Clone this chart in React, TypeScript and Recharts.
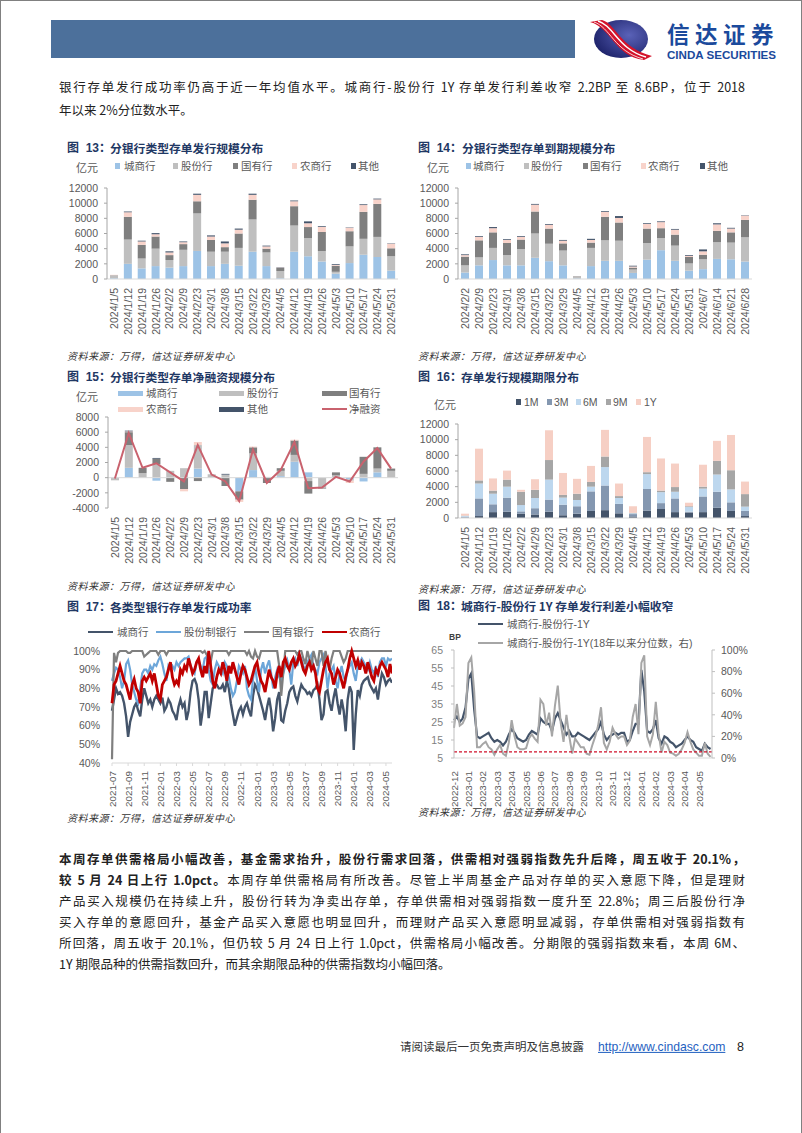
import React from 'react';
import { ComposedChart, Bar, Line, XAxis, YAxis, ReferenceLine } from 'recharts';

const FONT = '"Liberation Sans","Noto Sans CJK SC",sans-serif';
const CJK = '"Noto Sans CJK SC","Liberation Sans",sans-serif';

const bankNames = ['城商行', '股份行', '国有行', '农商行', '其他'];
const bankColors = ['#9DC3E6', '#BFBFBF', '#7F7F7F', '#F8D3CA', '#44546A'];
const tenorNames = ['1M', '3M', '6M', '9M', '1Y'];
const tenorColors = ['#44546A', '#8497B0', '#BDD7EE', '#A6A6A6', '#F6CFC4'];

const issueDates = ['2024/1/5', '2024/1/12', '2024/1/19', '2024/1/26', '2024/2/2', '2024/2/9', '2024/2/23', '2024/3/1', '2024/3/8', '2024/3/15', '2024/3/22', '2024/3/29', '2024/4/5', '2024/4/12', '2024/4/19', '2024/4/26', '2024/5/3', '2024/5/10', '2024/5/17', '2024/5/24', '2024/5/31'];
const maturityDates = ['2024/2/2', '2024/2/9', '2024/2/23', '2024/3/1', '2024/3/8', '2024/3/15', '2024/3/22', '2024/3/29', '2024/4/5', '2024/4/12', '2024/4/19', '2024/4/26', '2024/5/3', '2024/5/10', '2024/5/17', '2024/5/24', '2024/5/31', '2024/6/7', '2024/6/14', '2024/6/21', '2024/6/28'];

// fig 13 issuance by bank type
const issueCity = [100, 2000, 1400, 1700, 1500, 1700, 3700, 1700, 2000, 1750, 3600, 1700, 100, 3600, 3000, 2300, 700, 2100, 3200, 2900, 1100];
const issueStock = [350, 3200, 1300, 2300, 1000, 2150, 4950, 1900, 1600, 2350, 4250, 1800, 950, 3450, 2400, 1400, 250, 2200, 2100, 2650, 1900];
const issueState = [50, 3000, 1800, 1600, 650, 750, 1600, 1550, 600, 1900, 2600, 500, 400, 2550, 1450, 2500, 800, 2000, 3550, 4350, 1050];
const issueRural = [50, 600, 450, 300, 350, 250, 850, 450, 500, 500, 650, 300, 50, 650, 500, 650, 100, 450, 900, 600, 600];
const issueOther = [0, 100, 100, 150, 150, 100, 150, 150, 250, 150, 150, 100, 50, 100, 250, 100, 100, 50, 100, 100, 50];

// fig 14 maturity by bank type
const matCity = [850, 1800, 2500, 1800, 1800, 2800, 2350, 1800, 80, 1700, 2400, 2400, 800, 2550, 3800, 2400, 1100, 1300, 2650, 2600, 2300];
const matStock = [950, 1050, 1600, 1350, 2150, 3200, 2300, 1950, 220, 2400, 2700, 2650, 450, 2200, 1600, 2000, 950, 1300, 2200, 2200, 3200];
const matState = [1150, 2250, 2050, 1600, 1250, 2900, 2000, 950, 50, 700, 3100, 2400, 250, 1900, 1300, 1450, 850, 600, 1500, 1350, 2300];
const matRural = [200, 450, 550, 400, 350, 900, 500, 350, 20, 350, 650, 600, 150, 600, 800, 650, 150, 450, 850, 500, 550];
const matOther = [100, 100, 150, 100, 100, 100, 100, 100, 10, 150, 100, 250, 100, 100, 100, 100, 100, 250, 150, 100, 50];

// fig 15 net financing
const netCity = [-50, 1300, 0, -400, 50, 0, 1200, 0, 0, -1800, 1000, 0, 200, 2100, 700, 0, 100, -200, -500, 700, 0];
const netStock = [-300, 3000, 600, 1800, 850, 1250, 3100, 450, 400, 0, 2200, 100, 700, 900, -450, -1400, 200, -200, 500, 500, 900];
const netState = [0, 1700, 700, 700, -550, -1500, -450, 0, -1100, -1100, 800, -700, 350, 1900, -1650, -50, 400, 0, 2250, 2800, 300];
const netRural = [0, 100, 0, 0, 0, -300, 400, 0, 0, -300, 100, 0, 0, 100, 0, 0, 0, -300, 0, 0, 0];
const netOther = [0, 100, 0, 100, 0, 0, 0, 0, 100, 0, 0, 0, 0, 0, 0, 0, 0, 0, 0, 0, 0];
const netTotal = [-100, 5900, 1300, 1900, 700, -500, 4300, 400, -500, -3100, 3700, -700, 1000, 4700, -1400, -1300, 100, -500, 2100, 3900, 1200];

// fig 16 issuance by tenor
const tenor1M = [50, 250, 750, 800, 550, 450, 800, 350, 550, 900, 1000, 600, 200, 950, 1150, 750, 700, 750, 1300, 900, 250];
const tenor3M = [100, 2250, 1000, 1800, 300, 800, 1550, 1350, 950, 2500, 3150, 1200, 300, 2750, 750, 1750, 100, 2000, 2050, 1100, 650];
const tenor6M = [100, 1900, 1350, 1400, 800, 1300, 2550, 900, 800, 600, 2350, 750, 100, 1900, 1400, 850, 600, 1000, 2200, 1650, 550];
const tenor9M = [50, 400, 400, 900, 1700, 1050, 2500, 350, 800, 600, 1350, 250, 50, 250, 200, 600, 100, 250, 1750, 2450, 1600];
const tenor1Y = [250, 4050, 1550, 1150, 250, 1350, 3800, 2800, 1900, 2050, 3400, 1600, 850, 4500, 4100, 3000, 450, 2800, 2550, 4500, 1600];

// fig 17 success rate, about weekly
const rateMonths = ['2021-07', '2021-09', '2021-11', '2022-01', '2022-03', '2022-05', '2022-07', '2022-09', '2022-11', '2023-01', '2023-03', '2023-05', '2023-07', '2023-09', '2023-11', '2024-01', '2024-03', '2024-05'];
const rateCity = [68, 74, 80, 77, 78, 76, 72, 65, 54, 62, 66, 70, 72, 68, 65, 74, 80, 76, 72, 74, 70, 74, 76, 74, 72, 75, 68, 70, 74, 72, 68, 66, 63, 70, 74, 70, 72, 63, 68, 78, 84, 85, 82, 74, 60, 68, 78, 78, 64, 72, 80, 82, 82, 80, 80, 82, 78, 84, 80, 72, 66, 60, 64, 68, 70, 66, 70, 72, 68, 65, 76, 82, 80, 76, 72, 68, 63, 70, 75, 68, 57, 64, 74, 78, 63, 62, 68, 72, 78, 80, 81, 76, 73, 78, 82, 80, 79, 77, 78, 76, 79, 80, 82, 74, 63, 66, 78, 79, 72, 68, 75, 80, 72, 66, 74, 68, 57, 74, 81, 78, 47, 66, 79, 76, 82, 84, 85, 86, 82, 80, 78, 80, 74, 82, 88, 86, 82, 84, 85, 83];
const rateStock = [84, 88, 91, 90, 86, 80, 84, 93, 95, 90, 82, 78, 74, 72, 80, 88, 90, 90, 88, 92, 90, 93, 92, 95, 97, 93, 88, 84, 92, 90, 92, 90, 94, 92, 94, 95, 96, 96, 97, 92, 90, 88, 94, 95, 92, 90, 96, 97, 90, 84, 82, 90, 94, 92, 90, 88, 94, 92, 86, 80, 76, 78, 84, 92, 90, 88, 92, 80, 76, 74, 85, 92, 84, 78, 90, 94, 88, 92, 95, 88, 80, 86, 90, 86, 84, 88, 92, 95, 90, 82, 94, 96, 92, 98, 96, 92, 90, 94, 96, 98, 92, 90, 88, 94, 96, 98, 92, 80, 88, 90, 92, 84, 80, 88, 92, 86, 84, 90, 92, 94, 88, 84, 92, 94, 96, 94, 92, 90, 94, 90, 88, 92, 86, 94, 96, 96, 92, 96, 95, 96];
const rateState = [42, 99, 94, 99, 100, 100, 100, 100, 99, 99, 100, 100, 100, 100, 100, 100, 97, 98, 99, 100, 100, 100, 100, 98, 100, 100, 100, 98, 100, 100, 100, 100, 100, 100, 100, 100, 100, 100, 100, 100, 100, 100, 100, 100, 100, 99, 100, 98, 97, 94, 100, 100, 100, 100, 100, 100, 100, 100, 98, 100, 100, 100, 100, 100, 100, 100, 100, 98, 100, 97, 96, 100, 97, 96, 100, 100, 100, 100, 100, 100, 100, 100, 100, 92, 76, 88, 100, 100, 100, 100, 100, 100, 98, 100, 100, 96, 93, 100, 96, 92, 100, 96, 92, 100, 100, 92, 100, 94, 90, 96, 100, 100, 100, 100, 97, 94, 96, 100, 100, 100, 100, 100, 100, 100, 100, 100, 100, 100, 100, 100, 100, 100, 100, 100, 100, 100, 100, 100, 100, 100];
const rateRural = [72, 82, 84, 88, 92, 88, 84, 82, 78, 74, 82, 85, 80, 78, 72, 84, 86, 84, 86, 88, 84, 88, 82, 76, 74, 82, 84, 86, 90, 94, 86, 82, 84, 82, 90, 88, 92, 90, 96, 92, 88, 90, 94, 96, 90, 86, 92, 88, 100, 92, 84, 80, 86, 90, 88, 94, 90, 84, 92, 88, 94, 90, 86, 82, 88, 92, 90, 86, 82, 84, 88, 92, 94, 88, 84, 82, 78, 84, 90, 86, 84, 80, 88, 92, 86, 94, 96, 92, 90, 94, 96, 92, 94, 98, 94, 90, 88, 92, 94, 90, 92, 88, 80, 78, 84, 90, 94, 96, 90, 88, 82, 86, 90, 88, 84, 80, 86, 90, 96, 100, 96, 92, 95, 90, 94, 92, 88, 94, 90, 86, 84, 90, 88, 92, 94, 92, 90, 86, 93, 88];

// fig 18 spread, five readings a month
const spreadMonths = ['2022-12', '2023-01', '2023-02', '2023-03', '2023-04', '2023-05', '2023-06', '2023-07', '2023-08', '2023-09', '2023-10', '2023-11', '2023-12', '2024-01', '2024-02', '2024-03', '2024-04', '2024-05'];
const spreadBp = [26, 28, 25, 27, 33, 49, 52, 32, 17, 16, 17, 18, 19, 16, 14, 15, 14, 12, 14, 18, 21, 19, 16, 15, 14, 15, 18, 20, 19, 18, 27, 25, 24, 24, 20, 27, 30, 26, 22, 18, 20, 17, 17, 19, 18, 17, 16, 15, 17, 19, 21, 25, 18, 15, 17, 18, 19, 18, 19, 19, 14, 15, 20, 24, 24, 54, 42, 20, 19, 21, 26, 16, 13, 17, 16, 14, 13, 11, 12, 13, 15, 17, 15, 14, 11, 10, 9, 13, 11, 10];
const spreadPct = [28, 50, 30, 32, 38, 88, 93, 62, 10, 10, 13, 15, 10, 8, 3, 8, 12, 4, 2, 14, 35, 20, 10, 8, 8, 9, 18, 22, 18, 15, 54, 50, 30, 42, 20, 48, 67, 33, 15, 40, 20, 4, 18, 14, 10, 10, 4, 3, 12, 20, 30, 47, 14, 8, 15, 28, 22, 18, 20, 20, 12, 16, 38, 50, 22, 88, 95, 20, 12, 22, 52, 22, 5, 15, 12, 5, 4, 2, 4, 8, 14, 24, 15, 8, 5, 2, 2, 14, 4, 1];
const spreadNow = 8.4;

const stackRows = (labels: string[], series: number[][]) =>
  labels.map((label, i) => {
    const row: any = { label };
    series.forEach((s, k) => { row['s' + k] = s[i]; });
    return row;
  });

const rateRows = rateCity.map((v, i) => ({ i, city: v, stock: rateStock[i], state: rateState[i], rural: rateRural[i] }));
const spreadRows = spreadBp.map((v, i) => ({ i, bp: v, pct: spreadPct[i] }));

const Txt = ({ x, y, size = 10.5, color = '#595959', weight = 400, italic = false, font = FONT, spacing = 0, children }: any) => (
  <div style={{ position: 'absolute', left: x, top: y, transform: 'translateY(-50%)', fontSize: size, color, fontWeight: weight, fontStyle: italic ? 'italic' : 'normal', fontFamily: font, letterSpacing: spacing, whiteSpace: 'nowrap', lineHeight: 1 }}>{children}</div>
);
const Box = ({ x, y, w, h, color }: any) => (
  <div style={{ position: 'absolute', left: x, top: y, width: w, height: h, background: color }} />
);
const Title = ({ x, tx, y, num, children }: any) => (
  <>
    <Txt x={x} y={y} size={12} color="#1F3864" weight={700}>图&nbsp;&nbsp;{num}&#xFF1A;</Txt>
    <Txt x={tx} y={y} size={11.8} color="#1F3864" weight={700} font={CJK}>{children}</Txt>
  </>
);
const Source = ({ x, y }: any) => (
  <Txt x={x} y={y} size={10} color="#333" italic font={CJK} spacing={0.5}>资料来源&#xFF1A;万得&#xFF0C;信达证券研发中心</Txt>
);

const DateTick = ({ x, y, payload, size = 10.5, format }: any) => (
  <text x={x} y={y} transform={`rotate(-90 ${x} ${y})`} textAnchor="end" dominantBaseline="central" fontSize={size} fill="#595959" fontFamily={FONT}>
    {format ? format(payload.value) : payload.value}
  </text>
);

const yTick = { fontSize: 10.5, fill: '#595959', fontFamily: FONT };

function StackChart({ left, top, plotH, width, labels, series, colors, domain, ticks, net }: any) {
  const rows = stackRows(labels, series);
  if (net) rows.forEach((r: any, i: number) => { r.net = net[i]; });
  return (
    <div style={{ position: 'absolute', left, top }}>
      <ComposedChart width={width} height={plotH + 6 + 70} data={rows} stackOffset={net ? 'sign' : 'none'} margin={{ top: 6, right: 0, bottom: 0, left: 0 }}>
        <XAxis dataKey="label" interval={0} height={70} axisLine={net ? false : { stroke: '#D9D9D9' }} tickLine={false} tickMargin={0}
          tick={(p: any) => <DateTick {...p} y={p.y + 3} />} />
        <YAxis width={40} domain={domain} ticks={ticks} interval={0} axisLine={{ stroke: '#A6A6A6' }} tickLine={{ stroke: '#A6A6A6' }} tickSize={3} tickMargin={6} tick={yTick} />
        {net && <ReferenceLine y={0} stroke="#D9D9D9" />}
        {colors.map((c: string, k: number) => (
          <Bar key={k} dataKey={'s' + k} stackId="a" fill={c} barSize={8} isAnimationActive={false} />
        ))}
        {net && <Line dataKey="net" stroke="#C9626E" strokeWidth={2} dot={false} isAnimationActive={false} />}
      </ComposedChart>
    </div>
  );
}

function RateChart() {
  return (
    <div style={{ position: 'absolute', left: 72, top: 645 }}>
      <ComposedChart width={320} height={6 + 112 + 60} data={rateRows} margin={{ top: 6, right: 0, bottom: 0, left: 0 }}>
        <XAxis type="number" dataKey="i" domain={[0, 139]} ticks={rateMonths.map((_, k) => k * 8)} interval={0} height={60} axisLine={{ stroke: '#D9D9D9' }} tickLine={{ stroke: '#D9D9D9' }} tickSize={3}
          tick={(p: any) => <DateTick {...p} y={p.y + 3} size={9.8} format={(v: number) => rateMonths[v / 8]} />} />
        <YAxis width={40} domain={[40, 100]} ticks={[40, 50, 60, 70, 80, 90, 100]} interval={0} tickFormatter={(v: number) => v + '%'} axisLine={false} tickLine={false} tickMargin={6} tick={yTick} />
        <Line dataKey="city" stroke="#44546A" strokeWidth={2.4} dot={false} isAnimationActive={false} />
        <Line dataKey="stock" stroke="#6CA6D9" strokeWidth={2.2} dot={false} isAnimationActive={false} />
        <Line dataKey="state" stroke="#7F7F7F" strokeWidth={2.2} dot={false} isAnimationActive={false} />
        <Line dataKey="rural" stroke="#C00000" strokeWidth={2.8} dot={false} isAnimationActive={false} />
      </ComposedChart>
    </div>
  );
}

function SpreadChart() {
  return (
    <div style={{ position: 'absolute', left: 414, top: 644 }}>
      <ComposedChart width={338} height={6 + 108 + 60} data={spreadRows} margin={{ top: 6, right: 0, bottom: 0, left: 0 }}>
        <XAxis type="number" dataKey="i" domain={[0, 89.5]} ticks={spreadMonths.map((_, k) => k * 5)} interval={0} height={60} axisLine={{ stroke: '#D9D9D9' }} tickLine={false}
          tick={(p: any) => <DateTick {...p} y={p.y + 5} size={9.8} format={(v: number) => spreadMonths[v / 5]} />} />
        <YAxis yAxisId="left" width={40} domain={[5, 65]} ticks={[5, 15, 25, 35, 45, 55, 65]} interval={0} axisLine={{ stroke: '#BFBFBF' }} tickLine={{ stroke: '#BFBFBF' }} tickSize={3} tickMargin={8} tick={{ ...yTick, fill: '#7F7F7F' }} />
        <YAxis yAxisId="right" orientation="right" width={40} domain={[0, 100]} ticks={[0, 20, 40, 60, 80, 100]} interval={0} tickFormatter={(v: number) => v + '%'} axisLine={{ stroke: '#BFBFBF' }} tickLine={{ stroke: '#BFBFBF' }} tickSize={3} tickMargin={6} tick={yTick} />
        <Line yAxisId="left" dataKey="bp" stroke="#44546A" strokeWidth={2.2} dot={false} isAnimationActive={false} />
        <Line yAxisId="right" dataKey="pct" stroke="#A6A6A6" strokeWidth={2} dot={false} isAnimationActive={false} />
        <ReferenceLine yAxisId="left" y={spreadNow} stroke="#D0102A" strokeWidth={1.2} strokeDasharray="3 2" />
      </ComposedChart>
    </div>
  );
}

const SquareLegend = ({ y, items, colors, boxes, texts }: any) => (
  <>
    {items.map((name: string, i: number) => (
      <React.Fragment key={name}>
        <Box x={boxes[i]} y={y - 3} w={5} h={6} color={colors[i]} />
        <Txt x={texts[i]} y={y}>{name}</Txt>
      </React.Fragment>
    ))}
  </>
);
const LineKey = ({ x, tx, y, color, name, h = 2 }: any) => (
  <>
    <Box x={x} y={y - h / 2} w={25} h={h} color={color} />
    <Txt x={tx} y={y}>{name}</Txt>
  </>
);

const Justified = ({ y, last = false, children }: any) => (
  <div style={{ position: 'absolute', left: 59, top: y, transform: 'translateY(-50%)', width: 686, fontFamily: CJK, fontSize: 12.5, color: '#222', lineHeight: 1.1, textAlign: 'justify', textAlignLast: last ? 'left' : 'justify', whiteSpace: 'nowrap' }}>{children}</div>
);

function Logo() {
  return (
    <svg style={{ position: 'absolute', left: 588, top: 18, overflow: 'visible' }} width={66} height={44}>
      <defs>
        <radialGradient id="ball" cx="0.65" cy="0.4" r="0.8">
          <stop offset="0" stopColor="#5A62B8" />
          <stop offset="1" stopColor="#14195E" />
        </radialGradient>
      </defs>
      <ellipse cx={33} cy={21} rx={27} ry={19} fill="url(#ball)" />
      <path d="M2 4 L14 2 C28 6 32 30 64 38 L56 42 C26 38 24 10 2 4 Z" fill="#D3132B" />
      <path d="M10 3 C26 8 30 31 58 39" fill="none" stroke="#fff" strokeWidth={1.4} />
      <path d="M6 4 C22 9 26 33 55 41" fill="none" stroke="#fff" strokeWidth={0.8} />
    </svg>
  );
}

export default function App() {
  const bankSeries13 = [issueCity, issueStock, issueState, issueRural, issueOther];
  const bankSeries14 = [matCity, matStock, matState, matRural, matOther];
  const bankSeries15 = [netCity, netStock, netState, netRural, netOther];
  const tenorSeries = [tenor1M, tenor3M, tenor6M, tenor9M, tenor1Y];
  const t12 = [0, 2000, 4000, 6000, 8000, 10000, 12000];

  return (
    <div style={{ position: 'absolute', left: 0, top: 0, width: 802, height: 1133, background: '#fff', overflow: 'hidden' }}>
      <div style={{ position: 'absolute', left: 0, top: 0, width: 800, height: 1133, borderTop: '1px solid #808080', borderLeft: '1px solid #808080', borderRight: '1px solid #808080' }} />
      <Box x={51} y={20} w={524} h={38} color="#4C709B" />
      <Logo />
      <Txt x={667} y={33} size={22.5} color="#1B4A9C" weight={700} font={CJK} spacing={5.5}>信达证券</Txt>
      <Txt x={667} y={54.5} size={11.6} color="#1B4A9C" weight={700}>CINDA SECURITIES</Txt>

      <Justified y={87}>银行存单发行成功率仍高于近一年均值水平。城商行-股份行 1Y 存单发行利差收窄 2.2BP 至 8.6BP&#xFF0C;位于 2018</Justified>
      <Justified y={110} last>年以来 2%分位数水平。</Justified>

      <Title x={67} tx={110} y={148} num={13}>分银行类型存单发行规模分布</Title>
      <Txt x={76} y={168} size={11}>亿元</Txt>
      <SquareLegend y={166} items={bankNames} colors={bankColors} boxes={[115, 173, 233, 292, 351]} texts={[124, 181, 241, 300, 358]} />
      <StackChart left={67} top={182} plotH={91} width={331} labels={issueDates} series={bankSeries13} colors={bankColors} domain={[0, 12000]} ticks={t12} />
      <Source x={67} y={356} />

      <Title x={418} tx={462} y={148} num={14}>分银行类型存单到期规模分布</Title>
      <Txt x={427} y={168} size={11}>亿元</Txt>
      <SquareLegend y={166} items={bankNames} colors={bankColors} boxes={[466, 524, 583, 641, 700]} texts={[473, 531, 590, 648, 707]} />
      <StackChart left={418} top={182} plotH={91} width={334} labels={maturityDates} series={bankSeries14} colors={bankColors} domain={[0, 12000]} ticks={t12} />
      <Source x={418} y={356} />

      <Title x={67} tx={110} y={377} num={15}>分银行类型存单净融资规模分布</Title>
      <Txt x={76} y={397} size={11}>亿元</Txt>
      <LineKey x={118} tx={146} y={393} color={bankColors[0]} name="城商行" h={5} />
      <LineKey x={219} tx={247} y={393} color={bankColors[1]} name="股份行" h={5} />
      <LineKey x={322} tx={349} y={393} color={bankColors[2]} name="国有行" h={5} />
      <LineKey x={118} tx={146} y={409} color={bankColors[3]} name="农商行" h={5} />
      <LineKey x={219} tx={247} y={409} color={bankColors[4]} name="其他" h={5} />
      <LineKey x={322} tx={349} y={409} color="#C9626E" name="净融资" />
      <StackChart left={68} top={411} plotH={91} width={330} labels={issueDates} series={bankSeries15} colors={bankColors} domain={[-4000, 8000]} ticks={[-4000, -2000, 0, 2000, 4000, 6000, 8000]} net={netTotal} />
      <Source x={67} y={586} />

      <Title x={418} tx={461} y={377} num={16}>存单发行规模期限分布</Title>
      <Txt x={434} y={405} size={11}>亿元</Txt>
      <SquareLegend y={402} items={tenorNames} colors={tenorColors} boxes={[516, 547, 576, 606, 636]} texts={[524, 554, 583, 613, 644]} />
      <StackChart left={418} top={418} plotH={94} width={334} labels={issueDates} series={tenorSeries} colors={tenorColors} domain={[0, 12000]} ticks={t12} />
      <Source x={418} y={589} />

      <Title x={67} tx={110} y={607} num={17}>各类型银行存单发行成功率</Title>
      <LineKey x={88} tx={117} y={632} color="#44546A" name="城商行" />
      <LineKey x={156} tx={184} y={632} color="#6CA6D9" name="股份制银行" />
      <LineKey x={244} tx={272} y={632} color="#7F7F7F" name="国有银行" />
      <LineKey x={322} tx={349} y={632} color="#C00000" name="农商行" />
      <RateChart />
      <Source x={67} y={818} />

      <Title x={418} tx={461} y={606} num={18}>城商行-股份行 1Y 存单发行利差小幅收窄</Title>
      <LineKey x={478} tx={507} y={624} color="#44546A" name="城商行-股份行-1Y" />
      <LineKey x={478} tx={507} y={643} color="#A6A6A6" name="城商行-股份行-1Y(18年以来分位数&#xFF0C;右)" />
      <Txt x={449} y={637} size={8.5} color="#404040" weight={700}>BP</Txt>
      <SpreadChart />
      <Source x={418} y={812} />

      <Justified y={859}><b>本周存单供需格局小幅改善&#xFF0C;基金需求抬升&#xFF0C;股份行需求回落&#xFF0C;供需相对强弱指数先升后降&#xFF0C;周五收于 20.1%&#xFF0C;</b></Justified>
      <Justified y={880}><b>较 5 月 24 日上行 1.0pct。</b>本周存单供需格局有所改善。尽管上半周基金产品对存单的买入意愿下降&#xFF0C;但是理财</Justified>
      <Justified y={901}>产品买入规模仍在持续上升&#xFF0C;股份行转为净卖出存单&#xFF0C;存单供需相对强弱指数一度升至 22.8%&#xFF1B;周三后股份行净</Justified>
      <Justified y={922}>买入存单的意愿回升&#xFF0C;基金产品买入意愿也明显回升&#xFF0C;而理财产品买入意愿明显减弱&#xFF0C;存单供需相对强弱指数有</Justified>
      <Justified y={943}>所回落&#xFF0C;周五收于 20.1%&#xFF0C;但仍较 5 月 24 日上行 1.0pct&#xFF0C;供需格局小幅改善。分期限的强弱指数来看&#xFF0C;本周 6M、</Justified>
      <Justified y={964} last>1Y 期限品种的供需指数回升&#xFF0C;而其余期限品种的供需指数均小幅回落。</Justified>

      <Txt x={400} y={1047} size={11.5} color="#333" font={CJK}>请阅读最后一页免责声明及信息披露</Txt>
      <div style={{ position: 'absolute', left: 598, top: 1047, transform: 'translateY(-50%)', fontFamily: FONT, fontSize: 12.2, color: '#1F5FBF', textDecoration: 'underline', lineHeight: 1, whiteSpace: 'nowrap' }}>http://www.cindasc.com</div>
      <Txt x={737} y={1047} size={12.5} color="#222">8</Txt>
    </div>
  );
}
